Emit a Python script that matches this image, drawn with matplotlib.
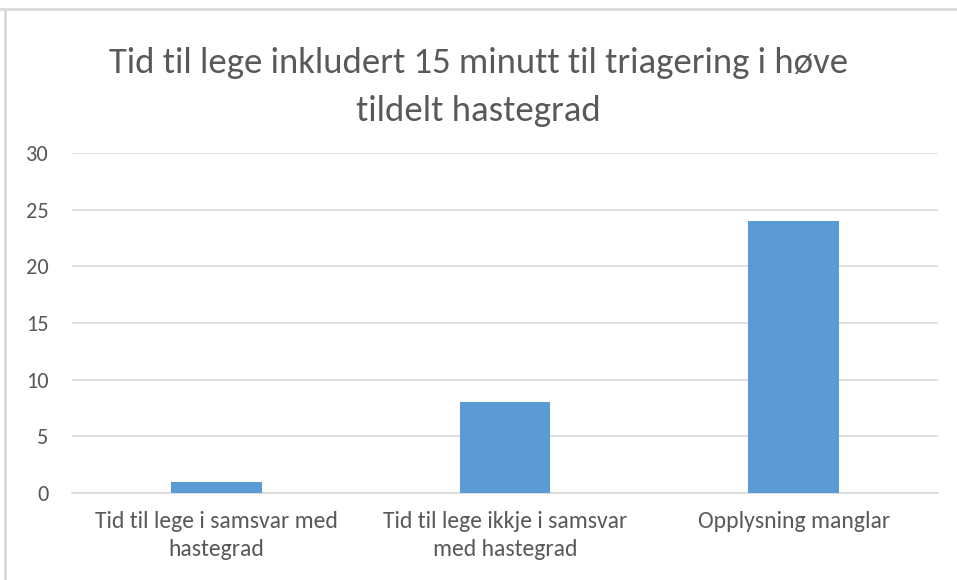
import matplotlib
matplotlib.use("Agg")
import matplotlib.pyplot as plt
from matplotlib import font_manager as fm
from matplotlib.lines import Line2D

categories = ["Tid til lege i samsvar med\nhastegrad",
              "Tid til lege ikkje i samsvar\nmed hastegrad",
              "Opplysning manglar"]
values = [1, 8, 24]
yticks = [0, 5, 10, 15, 20, 25, 30]
title = "Tid til lege inkludert 15 minutt til triagering i høve\ntildelt hastegrad"

names = {f.name for f in fm.fontManager.ttflist}
fam = "DejaVu Sans"
for cand in ["Carlito", "Liberation Sans Narrow", "Roboto Condensed",
             "Open Sans Condensed", "Liberation Sans"]:
    if cand in names:
        fam = cand
        break
plt.rcParams["font.family"] = [fam, "DejaVu Sans"]

txt = "#595959"
fig = plt.figure(figsize=(9.57, 5.80), dpi=100)
ax = fig.add_axes([72/957, 1-493/580, 866/957, 340/580])

x = range(len(categories))
ax.bar(x, values, width=0.315, color="#5B9BD5", zorder=3)
ax.set_xlim(-0.5, 2.5)
ax.set_ylim(0, 30)
ax.set_yticks(yticks)
ax.set_yticklabels([str(t) for t in yticks], fontsize=16, color=txt)
ax.set_xticks(list(x))
ax.set_xticklabels(categories, fontsize=17, color=txt, linespacing=1.4)
ax.grid(axis="y", color="#D9D9D9", linewidth=1.2, zorder=0)
for s in ["top", "right", "left"]:
    ax.spines[s].set_visible(False)
ax.spines["bottom"].set_color("#D9D9D9")
ax.spines["bottom"].set_linewidth(1.2)
ax.tick_params(axis="both", length=0)
ax.tick_params(axis="y", pad=17)
ax.tick_params(axis="x", pad=13)

fig.text(0.5, 1-87/580, title, ha="center", va="center", fontsize=26.5,
         color=txt, linespacing=1.6)

fig.add_artist(Line2D([0, 1], [1-9/580, 1-9/580], transform=fig.transFigure,
                      color="#D9D9D9", linewidth=2))
fig.add_artist(Line2D([5/957, 5/957], [0, 1-9/580], transform=fig.transFigure,
                      color="#D9D9D9", linewidth=2))

fig.savefig("out.png", dpi=100)
